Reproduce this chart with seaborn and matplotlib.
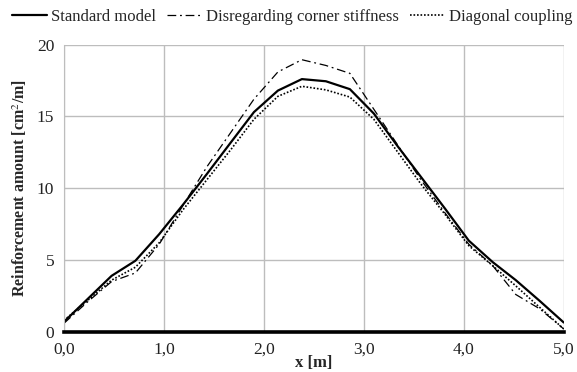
import numpy as np
import pandas as pd
import matplotlib
matplotlib.use("Agg")
import matplotlib.pyplot as plt
import seaborn as sns

# x positions along the wall (22 points)
x_m = [0.0, 0.238, 0.476, 0.714, 0.952, 1.19, 1.43, 1.67, 1.90, 2.14, 2.38,
       2.62, 2.86, 3.10, 3.33, 3.57, 3.81, 4.05, 4.29, 4.52, 4.76, 5.0]

standard = [0.7, 2.3, 3.9, 4.95, 6.8, 8.85, 11.0, 13.2, 15.3, 16.8, 17.6,
            17.45, 16.9, 15.2, 13.0, 10.8, 8.6, 6.35, 4.85, 3.6, 2.15, 0.65]
no_corner = [0.6, 2.1, 3.5, 4.1, 6.1, 8.8, 11.5, 13.9, 16.2, 18.1, 18.95,
             18.55, 18.0, 15.5, 13.1, 10.6, 8.3, 6.1, 4.6, 2.6, 1.6, 0.2]
diagonal = [0.8, 2.2, 3.6, 4.5, 6.2, 8.5, 10.6, 12.7, 14.8, 16.4, 17.1,
            16.85, 16.35, 14.8, 12.6, 10.3, 8.2, 6.0, 4.6, 3.2, 1.7, 0.2]

x_ticks = [0, 1, 2, 3, 4, 5]
x_tick_labels = ["0,0", "1,0", "2,0", "3,0", "4,0", "5,0"]
y_ticks = [0, 5, 10, 15, 20]

sns.set_style("white")
plt.rcParams['font.family'] = ['Liberation Serif', 'DejaVu Serif']
plt.rcParams['mathtext.fontset'] = 'stix'

fig = plt.figure(figsize=(5.77, 3.72), dpi=100)
ax = fig.add_axes([0.111, 0.108, 0.866, 0.772])

sns.lineplot(x=x_m, y=standard, ax=ax, color="black", linewidth=1.6,
             label="Standard model")
sns.lineplot(x=x_m, y=no_corner, ax=ax, color="black", linewidth=0.9,
             linestyle=(0, (7, 3, 1.5, 3)), label="Disregarding corner stiffness")
sns.lineplot(x=x_m, y=diagonal, ax=ax, color="black", linewidth=1.2,
             linestyle=(0, (1, 1.1)), label="Diagonal coupling")

ax.set_xlim(0, 5)
ax.set_ylim(0, 20)
ax.set_xticks(x_ticks)
ax.set_xticklabels(x_tick_labels)
ax.set_yticks(y_ticks)
ax.tick_params(axis="both", length=0, labelsize=12.5, colors="#222222", pad=7)
ax.grid(True, color="#bdbdbd", linewidth=1.0)
for s in ["top", "right"]:
    ax.spines[s].set_visible(False)
ax.spines["left"].set_color("#bdbdbd")
ax.spines["bottom"].set_color("black")
ax.spines["bottom"].set_linewidth(2.6)
ax.spines["bottom"].set_zorder(5)

ax.set_xlabel("x [m]", fontsize=12, fontweight="bold", labelpad=-2)
ax.set_ylabel("Reinforcement amount [cm$^2$/m]", fontsize=11.5, fontweight="bold", labelpad=6)

handles, labels = ax.get_legend_handles_labels()
ax.get_legend().remove()
fig.legend(handles, labels, loc="center", bbox_to_anchor=(0.507, 0.955), ncol=3,
           frameon=False, fontsize=12, handlelength=2.1, columnspacing=0.65,
           handletextpad=0.25)

fig.savefig("out.png", dpi=100)
